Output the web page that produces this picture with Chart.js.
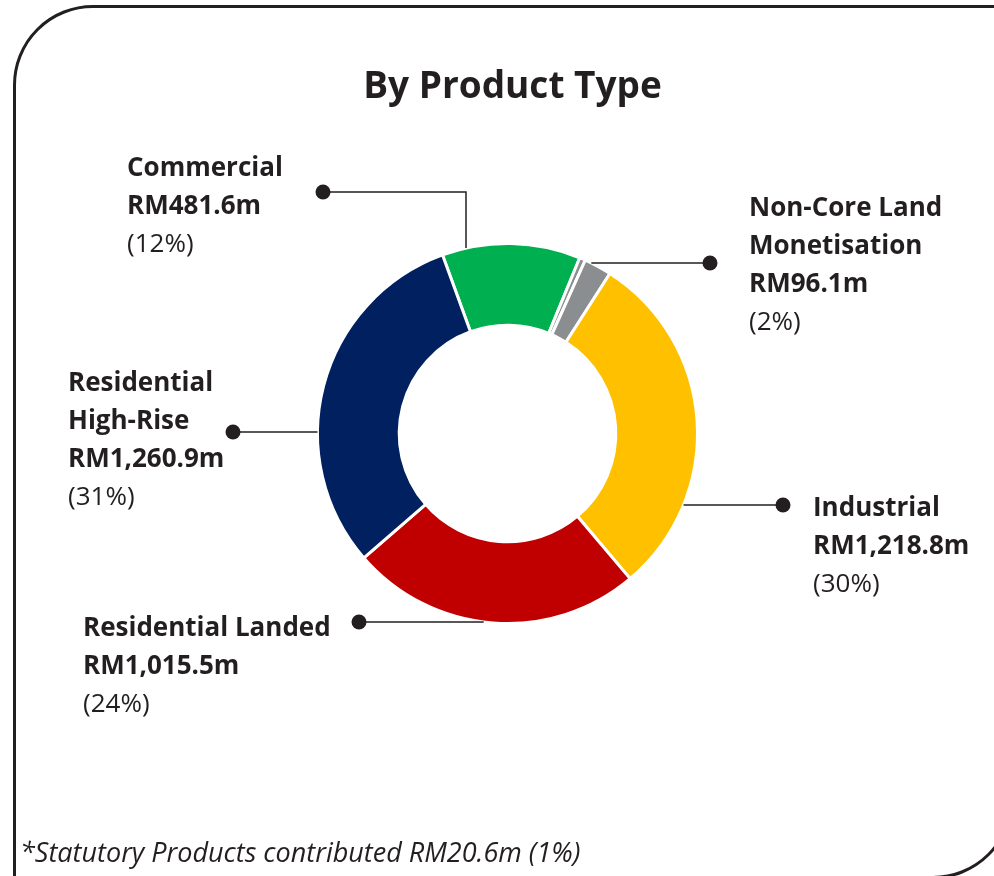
<!DOCTYPE html>
<html>
<head>
<meta charset="utf-8">
<script src="https://cdn.jsdelivr.net/npm/chart.js@4.4.0/dist/chart.umd.min.js"></script>
<style>
  html, body { margin: 0; padding: 0; background: #fff; }
  body { width: 994px; height: 876px; overflow: hidden; position: relative; font-family: "Open Sans", Lato, sans-serif; color: #231f20; }
  #frame { position: absolute; left: 13px; top: 5px; width: 1000px; height: 874px; box-sizing: border-box; border: 3px solid #231f20; border-radius: 80px 0 80px 0; }
  #wrap { position: absolute; left: 0; top: 0; width: 994px; height: 876px; }
  #title { position: absolute; left: 0; width: 1025px; top: 62px; text-align: center; font-size: 37px; font-weight: bold; line-height: 44px; }
  .lbl { position: absolute; font-size: 26px; line-height: 38px; white-space: nowrap; }
  .lbl b { font-weight: bold; }
  #note { position: absolute; left: 20px; top: 835px; font-size: 27px; font-style: italic; line-height: 34px; white-space: nowrap; }
</style>
</head>
<body>
<div id="frame"></div>
<div id="wrap"><canvas id="grafico" width="994" height="876"></canvas></div>
<div id="title">By Product Type</div>
<div id="note"></div>
<script>
// order follows the ring clockwise, starting at the Commercial slice
var categorias = ["Commercial", "Statutory Products", "Non-Core Land Monetisation", "Industrial", "Residential Landed", "Residential High-Rise"];
var valores = [481.6, 20.6, 96.1, 1218.8, 1015.5, 1260.9]; // RM million
var porcentajes = [12, 1, 2, 30, 24, 31];
var colores = ['#00B050', '#8B8E90', '#8B8E90', '#FFC000', '#C00000', '#002060'];

// callout layout: which slice, where the text goes, where the dot sits
var etiquetas = [
  { i: 0, lines: ["Commercial"], left: 127, top: 147, dotX: 323, dotY: 192, elbowX: 466 },
  { i: 2, lines: ["Non-Core Land", "Monetisation"], left: 749, top: 187, dotX: 710, dotY: 263 },
  { i: 3, lines: ["Industrial"], left: 813, top: 487, dotX: 783, dotY: 505 },
  { i: 4, lines: ["Residential Landed"], left: 83, top: 607, dotX: 359, dotY: 622 },
  { i: 5, lines: ["Residential", "High-Rise"], left: 68, top: 362, dotX: 233, dotY: 432 }
];

function rm(v) {
  return "RM" + v.toLocaleString("en-US", { minimumFractionDigits: 1, maximumFractionDigits: 1 }) + "m";
}

etiquetas.forEach(function (e) {
  var d = document.createElement("div");
  d.className = "lbl";
  d.style.left = e.left + "px";
  d.style.top = e.top + "px";
  var html = e.lines.map(function (l) { return "<b>" + l + "</b>"; }).join("<br>");
  html += "<br><b>" + rm(valores[e.i]) + "</b><br>(" + porcentajes[e.i] + "%)";
  d.innerHTML = html;
  document.body.appendChild(d);
});

document.getElementById("note").textContent =
  "*Statutory Products contributed " + rm(valores[1]) + " (" + porcentajes[1] + "%)";

var callouts = {
  id: 'callouts',
  afterDraw: function (chart) {
    var ctx = chart.ctx;
    var arcs = chart.getDatasetMeta(0).data;
    ctx.save();
    ctx.strokeStyle = '#231f20';
    ctx.fillStyle = '#231f20';
    ctx.lineWidth = 1.5;
    etiquetas.forEach(function (e) {
      var a = arcs[e.i].getProps(['x', 'y', 'outerRadius'], true);
      var R = a.outerRadius;
      ctx.beginPath();
      if (e.elbowX !== undefined) {
        var ay = a.y - Math.sqrt(R * R - Math.pow(e.elbowX - a.x, 2));
        ctx.moveTo(e.elbowX, ay);
        ctx.lineTo(e.elbowX, e.dotY);
        ctx.lineTo(e.dotX, e.dotY);
      } else {
        var dx = Math.sqrt(R * R - Math.pow(e.dotY - a.y, 2));
        var ax = e.dotX > a.x ? a.x + dx : a.x - dx;
        ctx.moveTo(ax, e.dotY);
        ctx.lineTo(e.dotX, e.dotY);
      }
      ctx.stroke();
      ctx.beginPath();
      ctx.arc(e.dotX, e.dotY, 7.5, 0, Math.PI * 2);
      ctx.fill();
    });
    ctx.restore();
  }
};

var ctx = document.getElementById("grafico");

var dona = new Chart(ctx, {
  type: 'doughnut',
  data: {
    labels: categorias,
    datasets: [{
      data: valores,
      backgroundColor: colores,
      borderColor: '#ffffff',
      borderWidth: 3
    }]
  },
  options: {
    responsive: false,
    animation: false,
    rotation: -20,
    cutout: '57%',
    layout: { padding: { left: 316, right: 295, top: 242, bottom: 251 } },
    plugins: {
      legend: { display: false },
      tooltip: { enabled: false }
    }
  },
  plugins: [callouts]
});
</script>
</body>
</html>
